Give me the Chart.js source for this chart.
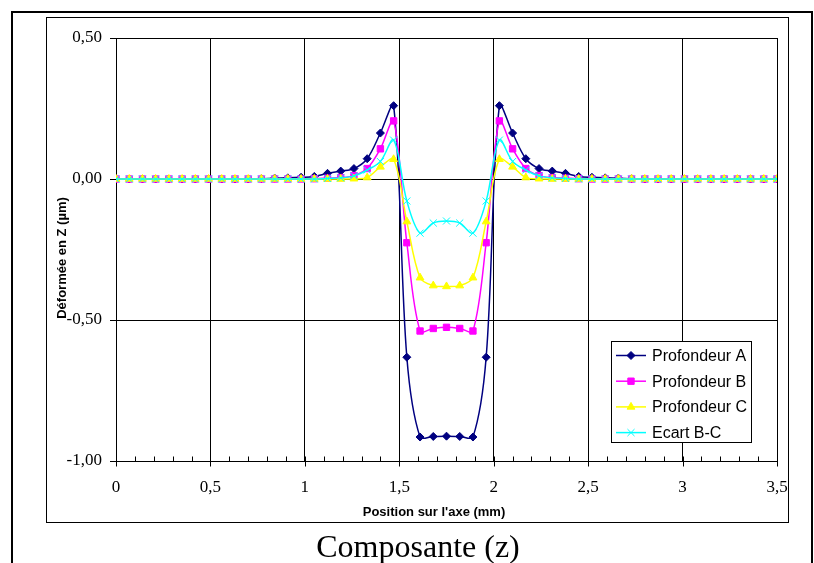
<!DOCTYPE html>
<html>
<head>
<meta charset="utf-8">
<script src="https://cdn.jsdelivr.net/npm/chart.js@4/dist/chart.umd.min.js"></script>
<style>
  html, body { margin: 0; padding: 0; background: #fff; }
  canvas { display: block; }
</style>
</head>
<body>
<canvas id="chart" width="814" height="563"></canvas>
<script>
// position along the axis (mm)
let positions = [0, 0.07, 0.14, 0.21, 0.28, 0.35, 0.42, 0.49, 0.56, 0.63, 0.7, 0.77, 0.84, 0.91, 0.98, 1.05, 1.12, 1.19, 1.26, 1.33, 1.4, 1.47, 1.54, 1.61, 1.68, 1.75, 1.82, 1.89, 1.96, 2.03, 2.1, 2.17, 2.24, 2.31, 2.38, 2.45, 2.52, 2.59, 2.66, 2.73, 2.8, 2.87, 2.94, 3.01, 3.08, 3.15, 3.22, 3.29, 3.36, 3.43, 3.5];

let profA = [0, 0, 0, 0, 0, 0, 0, 0, 0, 0, 0, 0.001, 0.003, 0.004, 0.006, 0.009, 0.02, 0.028, 0.037, 0.072, 0.163, 0.26, -0.632, -0.915, -0.913, -0.912, -0.913, -0.915, -0.632, 0.26, 0.163, 0.072, 0.037, 0.028, 0.02, 0.009, 0.006, 0.004, 0.003, 0.001, 0, 0, 0, 0, 0, 0, 0, 0, 0, 0, 0];
let profB = [0, 0, 0, 0, 0, 0, 0, 0, 0, 0, 0, 0, 0, 0, 0, 0.001, 0.003, 0.005, 0.012, 0.037, 0.107, 0.206, -0.226, -0.539, -0.53, -0.526, -0.53, -0.539, -0.226, 0.206, 0.107, 0.037, 0.012, 0.005, 0.003, 0.001, 0, 0, 0, 0, 0, 0, 0, 0, 0, 0, 0, 0, 0, 0, 0];
let profC = [0, 0, 0, 0, 0, 0, 0, 0, 0, 0, 0, 0, 0, 0, 0, 0, 0, 0, 0.001, 0.005, 0.043, 0.07, -0.151, -0.35, -0.378, -0.381, -0.378, -0.35, -0.151, 0.07, 0.043, 0.005, 0.001, 0, 0, 0, 0, 0, 0, 0, 0, 0, 0, 0, 0, 0, 0, 0, 0, 0, 0];
let ecartBC = [0, 0, 0, 0, 0, 0, 0, 0, 0, 0, 0, 0, 0, 0, 0, 0, 0.002, 0.004, 0.011, 0.032, 0.062, 0.138, -0.078, -0.192, -0.156, -0.149, -0.156, -0.192, -0.078, 0.138, 0.062, 0.032, 0.011, 0.004, 0.002, 0, 0, 0, 0, 0, 0, 0, 0, 0, 0, 0, 0, 0, 0, 0, 0];

let seriesNames = ["Profondeur A", "Profondeur B", "Profondeur C", "Ecart B-C"];
let seriesColors = ["#000080", "#ff00ff", "#ffff00", "#00ffff"];
let seriesMarkers = ["rectRot", "rect", "triangle", "crossRot"];
let markerSizes = [4, 4.5, 4.5, 5];

let yTicks = [-1, -0.5, 0, 0.5];

function toPoints(vals) {
  return positions.map((x, i) => ({ x: x, y: vals[i] }));
}

let allSeries = [profA, profB, profC, ecartBC];
let datasets = allSeries.map((vals, i) => ({
  label: seriesNames[i],
  data: toPoints(vals),
  borderColor: seriesColors[i],
  backgroundColor: seriesColors[i],
  borderWidth: 1.5,
  pointStyle: seriesMarkers[i],
  pointRadius: markerSizes[i],
  pointBorderWidth: 1,
  pointBackgroundColor: seriesColors[i],
  pointBorderColor: seriesColors[i],
  tension: 0.33,
  order: allSeries.length - i,
}));

// frames, x ticks, titles and legend box
const decorations = {
  id: "decorations",
  beforeDraw(chart) {
    const ctx = chart.ctx;
    ctx.save();
    ctx.fillStyle = "#fff";
    ctx.fillRect(0, 0, chart.width, chart.height);
    ctx.strokeStyle = "#000";
    ctx.lineWidth = 2;
    ctx.beginPath();
    ctx.moveTo(12, 563);
    ctx.lineTo(12, 12);
    ctx.lineTo(812, 12);
    ctx.lineTo(812, 563);
    ctx.stroke();
    ctx.lineWidth = 1;
    ctx.strokeRect(46.5, 17.5, 742, 505);
    ctx.restore();
  },
  afterDraw(chart) {
    const ctx = chart.ctx;
    const xs = chart.scales.x;
    const area = chart.chartArea;
    ctx.save();
    ctx.strokeStyle = "#000";
    ctx.lineWidth = 1;
    ctx.beginPath();
    for (let i = 0; i <= 35; i++) {
      const px = Math.round(xs.getPixelForValue(i / 10)) + 0.5;
      const b = Math.round(area.bottom) + 0.5;
      if (i % 5 === 0) {
        ctx.moveTo(px, b - 5);
        ctx.lineTo(px, b + 5);
      } else {
        ctx.moveTo(px, b - 5);
        ctx.lineTo(px, b);
      }
    }
    ctx.stroke();

    // axis titles
    ctx.fillStyle = "#000";
    ctx.font = "bold 13px 'Liberation Sans', Arial, sans-serif";
    ctx.textAlign = "center";
    ctx.textBaseline = "alphabetic";
    ctx.fillText("Position sur l'axe (mm)", 434, 516);
    ctx.save();
    ctx.translate(66, 258);
    ctx.rotate(-Math.PI / 2);
    ctx.fillText("Déformée en Z (µm)", 0, 0);
    ctx.restore();

    // caption
    ctx.font = "32px 'Liberation Serif', 'Times New Roman', serif";
    ctx.fillText("Composante (z)", 418, 557);

    // legend
    ctx.fillStyle = "#fff";
    ctx.fillRect(611, 341, 141, 102);
    ctx.strokeStyle = "#000";
    ctx.strokeRect(611.5, 341.5, 140, 101);
    ctx.font = "16px 'Liberation Sans', Arial, sans-serif";
    ctx.textAlign = "left";
    ctx.textBaseline = "middle";
    chart.data.datasets.forEach((ds, i) => {
      const y = 355.5 + i * 25.7;
      ctx.strokeStyle = ds.borderColor;
      ctx.lineWidth = 1.5;
      ctx.beginPath();
      ctx.moveTo(616, y);
      ctx.lineTo(646, y);
      ctx.stroke();
      ctx.fillStyle = ds.borderColor;
      ctx.lineWidth = 1;
      Chart.helpers.drawPoint(ctx, { pointStyle: ds.pointStyle, radius: ds.pointRadius, rotation: 0, borderWidth: 1 }, 631, y);
      ctx.fillStyle = "#000";
      ctx.fillText(ds.label, 652, y + 1);
    });
    ctx.restore();
  },
};

new Chart("chart", {
  type: "line",
  data: { datasets: datasets },
  options: {
    responsive: false,
    animation: false,
    devicePixelRatio: 1,
    layout: { padding: { left: 47, top: 38, right: 37, bottom: 40 } },
    plugins: {
      legend: { display: false },
      tooltip: { enabled: false },
    },
    scales: {
      x: {
        type: "linear",
        min: 0,
        max: 3.5,
        afterFit: (s) => { s.height = 62; },
        grid: { color: "#000", lineWidth: 1, drawTicks: false },
        border: { color: "#000", width: 1 },
        ticks: {
          stepSize: 0.5,
          padding: 16,
          color: "#000",
          maxRotation: 0,
          font: { family: "'Liberation Serif', 'Times New Roman', serif", size: 17 },
          callback: (v) => String(Math.round(v * 10) / 10).replace(".", ","),
        },
      },
      y: {
        min: -1,
        max: 0.5,
        afterFit: (s) => { s.width = 69; },
        afterBuildTicks: (s) => { s.ticks = yTicks.map((v) => ({ value: v })); },
        grid: { color: "#000", lineWidth: 1, drawTicks: true, tickLength: 6 },
        border: { color: "#000", width: 1 },
        ticks: {
          padding: 8,
          color: "#000",
          font: { family: "'Liberation Serif', 'Times New Roman', serif", size: 17 },
          callback: (v) => v.toFixed(2).replace(".", ","),
        },
      },
    },
  },
  plugins: [decorations],
});
</script>
</body>
</html>
